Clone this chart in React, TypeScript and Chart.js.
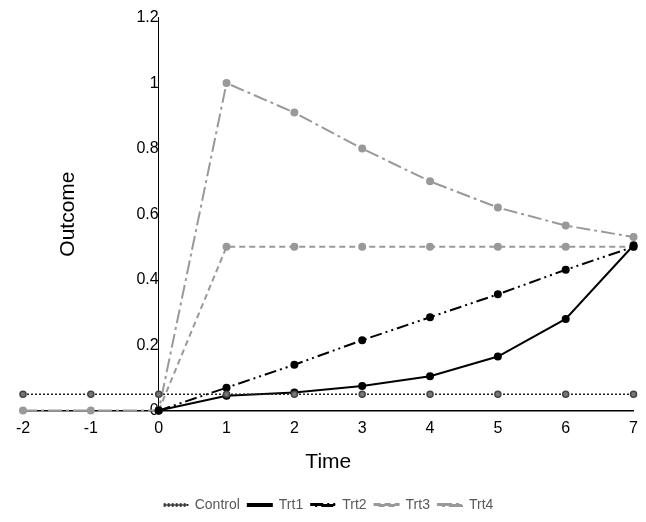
import { useEffect, useRef } from 'react';
import { Chart, registerables } from 'chart.js';

Chart.register(...registerables);

const times = [-2, -1, 0, 1, 2, 3, 4, 5, 6, 7];
const control = [0.05, 0.05, 0.05, 0.05, 0.05, 0.05, 0.05, 0.05, 0.05, 0.05];
const trt1 = [null, null, 0, 0.045, 0.055, 0.075, 0.105, 0.165, 0.28, 0.505];
const trt2 = [null, null, 0, 0.07, 0.14, 0.215, 0.285, 0.355, 0.43, 0.5];
const trt3 = [null, null, 0, 0.5, 0.5, 0.5, 0.5, 0.5, 0.5, 0.5];
const trt4 = [0, 0, 0, 1, 0.91, 0.8, 0.7, 0.62, 0.565, 0.53];

const pts = (vals: (number | null)[]) => times.map((t, i) => ({ x: t, y: vals[i] }));

const yTitle = {
  id: 'yTitle',
  afterDraw(chart: Chart) {
    const { ctx, chartArea } = chart;
    ctx.save();
    ctx.translate(68, (chartArea.top + chartArea.bottom) / 2);
    ctx.rotate(-Math.PI / 2);
    ctx.font = '21px "Liberation Sans", Arial, sans-serif';
    ctx.fillStyle = '#000';
    ctx.textAlign = 'center';
    ctx.textBaseline = 'middle';
    ctx.fillText('Outcome', 0, 0);
    ctx.restore();
  },
};

export default function App() {
  const ref = useRef<HTMLCanvasElement>(null);
  const inst = useRef<Chart | null>(null);

  useEffect(() => {
    if (!ref.current) return;
    inst.current?.destroy();
    const font = { family: '"Liberation Sans", Arial, sans-serif', size: 16 };
    const mk = (label: string, data: (number | null)[], color: string, pcolor: string, dash: number[], width: number) => ({
      label,
      data: pts(data),
      borderColor: color,
      backgroundColor: pcolor,
      pointBackgroundColor: pcolor,
      pointBorderColor: pcolor,
      borderDash: dash,
      borderWidth: width,
      pointRadius: 3,
      spanGaps: false,
      clip: false as const,
    });
    inst.current = new Chart(ref.current, {
      type: 'line',
      data: {
        datasets: [
          { ...mk('Control', control, '#222', '#777', [2, 2], 1.5), pointBorderColor: '#444' },
          mk('Trt1', trt1, '#000', '#000', [], 2),
          mk('Trt2', trt2, '#000', '#000', [12, 4, 2, 4, 2, 4], 2),
          mk('Trt3', trt3, '#999', '#999', [6, 4], 2),
          mk('Trt4', trt4, '#999', '#999', [14, 4, 3, 4], 2),
        ],
      },
      plugins: [yTitle],
      options: {
        animation: false,
        responsive: false,
        layout: { padding: { left: 23, right: 12, top: 10, bottom: 0 } },
        plugins: {
          tooltip: { enabled: false },
          legend: {
            position: 'bottom',
            labels: { font: { ...font, size: 14 }, color: '#595959', boxWidth: 24, boxHeight: 2, padding: 8 },
          },
        },
        scales: {
          x: {
            type: 'linear',
            min: -2,
            max: 7,
            grid: { display: false, drawTicks: false },
            border: { color: '#000', width: 1.5 },
            ticks: { stepSize: 1, font, color: '#000', padding: 8 },
            title: { display: true, text: 'Time', font: { ...font, size: 21 }, color: '#000', padding: { top: 4, bottom: 15 } },
          },
          y: {
            type: 'linear',
            position: { x: 0 },
            min: 0,
            max: 1.2,
            grid: { display: false, drawTicks: false },
            border: { color: '#000', width: 1 },
            ticks: { stepSize: 0.2, font, color: '#000', padding: 8, callback: (v: any) => String(Math.round(v * 10) / 10) },
          },
        },
      },
    });
    return () => {
      inst.current?.destroy();
    };
  }, []);

  return (
    <div style={{ position: 'fixed', left: 0, top: 0, width: 646, height: 522, background: '#fff' }}>
      <canvas ref={ref} width={646} height={522} />
    </div>
  );
}
